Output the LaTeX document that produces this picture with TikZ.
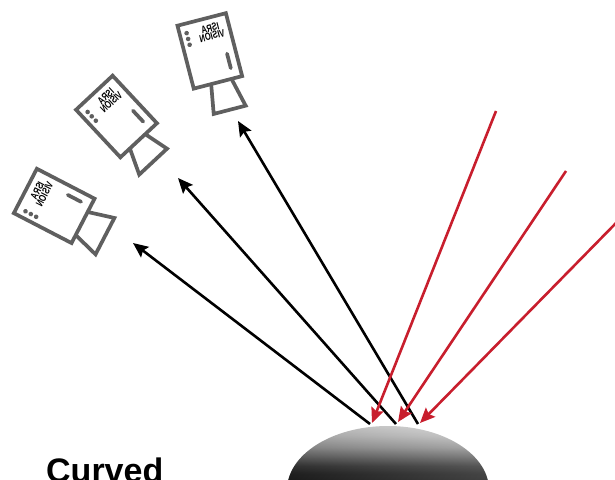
\documentclass[tikz,border=0pt]{standalone}
\usepackage{fontspec}
\setmainfont{Liberation Sans}
\usetikzlibrary{arrows.meta}
\definecolor{camgray}{RGB}{95,95,95}
\definecolor{rayred}{RGB}{200,30,45}
\pgfdeclareverticalshading{domeshade}{100bp}{%
  color(0bp)=(black!88); color(25bp)=(black!88); color(31bp)=(black!86);
  color(38bp)=(black!78); color(46bp)=(black!60); color(55bp)=(black!40);
  color(65bp)=(black!25); color(75bp)=(black!15); color(100bp)=(black!15)}

\begin{document}
\begin{tikzpicture}[x=1pt,y=-1pt,
  cam/.style={draw=camgray, line width=3.7pt},
  slot/.style={draw=camgray, line width=3.7pt, line cap=round},
  lamp/.style={fill=camgray},
  brand/.style={font=\bfseries\fontsize{10.5}{8}\selectfont, align=center,
    xscale=-0.72, transform shape, inner sep=0pt, text=black},
  ray/.style={line width=2.6pt, -{Stealth[length=15pt,width=13pt,inset=2.5pt]}},
  view/.style={ray, draw=black},
  light/.style={ray, draw=rayred},
  label/.style={font=\bfseries\fontsize{34}{34}\selectfont, anchor=base west, inner sep=0pt}
]
\useasboundingbox (0,0) rectangle (615,479);
\clip (0,0) rectangle (615,479);

% camera body, status lights, slot and printed brand (shared local frame)
\newcommand{\camerabody}{%
  \draw[cam] (-25,-32.5) rectangle (25,32.5);
  \fill[lamp] (-18,-23) circle (2.3) (-18,-17) circle (2.3) (-18,-11) circle (2.3);
  \draw[slot] (16,7) -- (16,22);
  \node[brand] at (6,-18) {ISRA\\VISION};
}

% top camera
\begin{scope}[shift={(209.8,50.9)}, rotate=14.5]
  \camerabody
  \draw[cam] (-7,32.5) -- (-12,62) -- (21,62) -- (14,32.5);
\end{scope}

% middle camera
\begin{scope}[shift={(116.5,116.5)}, rotate=43]
  \camerabody
  \draw[cam] (-12,32.5) -- (-23,58) -- (15,58) -- (9,32.5);
\end{scope}

% lower camera
\begin{scope}[shift={(54.2,205.9)}, rotate=62.6]
  \camerabody
  \draw[cam] (-16,32.5) -- (-24,59) -- (17,59) -- (10,32.5);
\end{scope}

% curved surface
\begin{scope}
  \clip (388,490) ellipse [x radius=101, y radius=64];
  \shade[shading=domeshade] (280,425) rectangle (495,480);
  \shade[left color=black, right color=white, opacity=0.16] (280,425) rectangle (495,480);
\end{scope}

% ray end points
\coordinate (v1s) at (370,424);
\coordinate (v1e) at (133,243);
\coordinate (v2s) at (396,424);
\coordinate (v2e) at (178,178);
\coordinate (v3s) at (418,424);
\coordinate (v3e) at (238,121);
\coordinate (l1s) at (496,111);
\coordinate (l1e) at (372,423);
\coordinate (l2s) at (566,171);
\coordinate (l2e) at (398,422);
\coordinate (l3s) at (618,221);
\coordinate (l3e) at (420,423);

% reflected rays towards the cameras
\draw[view] (v1s) -- (v1e);
\draw[view] (v2s) -- (v2e);
\draw[view] (v3s) -- (v3e);

% incident illumination
\draw[light] (l1s) -- (l1e);
\draw[light] (l2s) -- (l2e);
\draw[light] (l3s) -- (l3e);

\node[label] (title) at (46,482) {Curved};
\end{tikzpicture}
\end{document}
